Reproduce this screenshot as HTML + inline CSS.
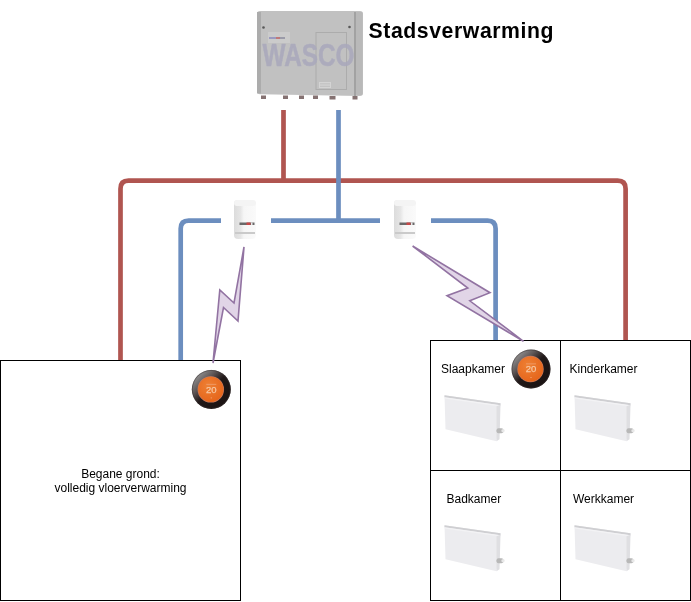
<!DOCTYPE html>
<html><head><meta charset="utf-8">
<style>
html,body{margin:0;padding:0;background:#fff;width:691px;height:602px;overflow:hidden}
svg{display:block;position:absolute;left:0;top:0;will-change:transform}
text{font-family:"Liberation Sans",sans-serif}
</style></head>
<body>
<svg width="691" height="602" viewBox="0 0 691 602">
<defs>
  <linearGradient id="valveG" x1="0" x2="1" y1="0" y2="0">
    <stop offset="0" stop-color="#dcdcdc"/>
    <stop offset="0.3" stop-color="#e6e6e6"/>
    <stop offset="0.45" stop-color="#f6f6f6"/>
    <stop offset="1" stop-color="#fafafa"/>
  </linearGradient>
  <radialGradient id="ringG" cx="0.35" cy="0.3" r="0.75">
    <stop offset="0" stop-color="#9a9a9a"/>
    <stop offset="0.5" stop-color="#3a3030"/>
    <stop offset="1" stop-color="#120c0c"/>
  </radialGradient>
  <g id="valve">
    <rect x="0" y="0" width="22" height="39" rx="4" fill="url(#valveG)"/>
    <rect x="0" y="0" width="22" height="6" rx="3" fill="#f4f4f4"/>
    <rect x="5.5" y="22.5" width="15" height="2.5" fill="#6a6a6a"/>
    <rect x="12.5" y="22.5" width="4" height="2.5" fill="#c84848"/>
    <rect x="17" y="22.5" width="1.5" height="2.5" fill="#e8e8e8"/>
    <rect x="1" y="32" width="20" height="2" fill="#cacaca"/>
  </g>
  <linearGradient id="rimG" x1="0.1" y1="0.1" x2="0.9" y2="0.9">
    <stop offset="0" stop-color="#9a9a9a"/>
    <stop offset="0.28" stop-color="#5e5656"/>
    <stop offset="0.5" stop-color="#201818"/>
    <stop offset="1" stop-color="#1a1212"/>
  </linearGradient>
  <radialGradient id="orG" cx="0.4" cy="0.35" r="0.7">
    <stop offset="0" stop-color="#ee8034"/>
    <stop offset="1" stop-color="#e5641a"/>
  </radialGradient>
  <g id="nest">
    <circle cx="0" cy="0" r="19.5" fill="url(#rimG)"/>
    <circle cx="0" cy="0" r="19" fill="none" stroke="#3a3232" stroke-width="1" opacity="0.5"/>
    <circle cx="-0.5" cy="0" r="13.2" fill="#c87a60"/>
    <circle cx="-0.5" cy="0" r="12.6" fill="url(#orG)"/>
    <rect x="-5" y="-5.5" width="10" height="0.8" fill="#f0a070"/>
    <text x="0" y="3.3" font-size="9.5" fill="#f7c8a4" stroke="#f7c8a4" stroke-width="0.25" text-anchor="middle">20</text>
    <rect x="-0.6" y="8" width="1.2" height="1" fill="#f0a070"/>
  </g>
  <g id="rad">
    <polygon points="0,0 56,8 52,46 1,34" fill="#ececef"/>
    <polygon points="0,0 56,8 56,10 0,2" fill="#cfcfd2"/>
    <polygon points="0,2 56,10 56,11.2 0,3.2" fill="#f3f3f5"/>
    <polygon points="52,11 56,9.6 55,44 52,46" fill="#dfdfe2"/>
    <rect x="52" y="33" width="7" height="5" rx="2" fill="#b8b8b8"/>
    <rect x="57" y="34" width="3" height="3" rx="1" fill="#e8e8e8"/>
  </g>
</defs>

<!-- WASCO unit -->
<g>
  <path d="M260 11 H360 Q363 11 363 14 V93 Q363 96 360 96 L260 94.2 Q257 94 257 91 V14 Q257 11 260 11 Z" fill="#c1c1c1"/>
  <rect x="257" y="12" width="4" height="81.5" fill="#acacac"/>
  <rect x="354" y="12" width="2" height="84" fill="#a2a2a2"/>
  <rect x="356" y="12" width="6.5" height="83" rx="1" fill="#b9b9b9"/>
  <rect x="316" y="32.5" width="30.5" height="57" fill="none" stroke="#acacac" stroke-width="1"/>
  <rect x="268" y="32" width="22" height="11" fill="#cbcbcb"/>
  <rect x="269" y="37" width="7" height="2" fill="#9a9ac0"/><rect x="276" y="37" width="4" height="2" fill="#c07878"/><rect x="280" y="37" width="5" height="2" fill="#9a9aa8"/>
  <rect x="319" y="82" width="12" height="6" fill="#d4d4d4"/><rect x="320" y="83.5" width="10" height="0.8" fill="#b8b8b8"/><rect x="320" y="85.8" width="10" height="0.8" fill="#b8b8b8"/>
  <circle cx="263.5" cy="27.5" r="1.3" fill="#585858"/>
  <circle cx="349.5" cy="27" r="1.3" fill="#585858"/>
  <text x="308.5" y="65.6" font-size="30.5" font-weight="bold" fill="#a9a8bc" stroke="#a9a8bc" stroke-width="0.5" text-anchor="middle" textLength="92" lengthAdjust="spacingAndGlyphs" opacity="0.85">WASCO</text>
  <g fill="#857272">
    <rect x="261" y="95.5" width="5" height="3.5"/>
    <rect x="283" y="95.5" width="5" height="3.5"/>
    <rect x="299" y="95.5" width="5" height="3.5"/>
    <rect x="313" y="95.5" width="5" height="3.5"/>
    <rect x="329.5" y="96" width="6" height="3.5"/>
    <rect x="352.5" y="96" width="5" height="3.5"/>
  </g>
</g>
<text x="368.5" y="37.6" font-size="21.2" letter-spacing="0.6" font-weight="bold" fill="#000">Stadsverwarming</text>

<!-- pipes -->
<g fill="none" stroke-width="4.7" stroke-linejoin="round">
  <path d="M283.5 110 V180.7 M120.5 360 V188.7 Q120.5 180.7 128.5 180.7 H617.6 Q625.6 180.7 625.6 188.7 V340" stroke="#b05550"/>
  <path d="M338.5 110 V220.6 M180.7 360 V228.6 Q180.7 220.6 188.7 220.6 H221 M271 220.6 H380 M431 220.6 H487.6 Q495.6 220.6 495.6 228.6 V340" stroke="#6c8ebf"/>
</g>

<!-- valves -->
<use href="#valve" x="234" y="200"/>
<use href="#valve" x="394" y="200"/>

<!-- boxes -->
<g fill="none" stroke="#000" stroke-width="1">
  <rect x="0.5" y="360.5" width="240" height="240"/>
  <rect x="430.5" y="340.5" width="260" height="260"/>
  <path d="M560.5 340.5 V600.5 M430.5 470.5 H690.5"/>
</g>

<!-- lightning -->
<g fill="#e1d5e7" stroke="#9273a2" stroke-width="1.6" stroke-linejoin="miter">
  <polygon points="244,247 238,321 223.5,307.5 213,363 219.8,290 234,303"/>
  <polygon points="412.6,246 490,292.7 469.8,300.8 523.5,341.3 447,295.7 467.8,288"/>
</g>

<!-- thermostats -->
<use href="#nest" x="211.3" y="389.4"/>
<use href="#nest" x="531" y="369"/>

<!-- radiators -->
<use href="#rad" x="444.5" y="395.2"/>
<use href="#rad" x="574.5" y="395.2"/>
<use href="#rad" x="444.5" y="525.2"/>
<use href="#rad" x="574.5" y="525.2"/>

<!-- labels -->
<g font-size="12" fill="#000">
  <text x="441" y="373">Slaapkamer</text>
  <text x="569.5" y="373">Kinderkamer</text>
  <text x="446.5" y="503">Badkamer</text>
  <text x="573" y="503">Werkkamer</text>
  <text x="120.5" y="478" text-anchor="middle">Begane grond:</text>
  <text x="120.5" y="491.5" text-anchor="middle">volledig vloerverwarming</text>
</g>
</svg>
</body></html>
